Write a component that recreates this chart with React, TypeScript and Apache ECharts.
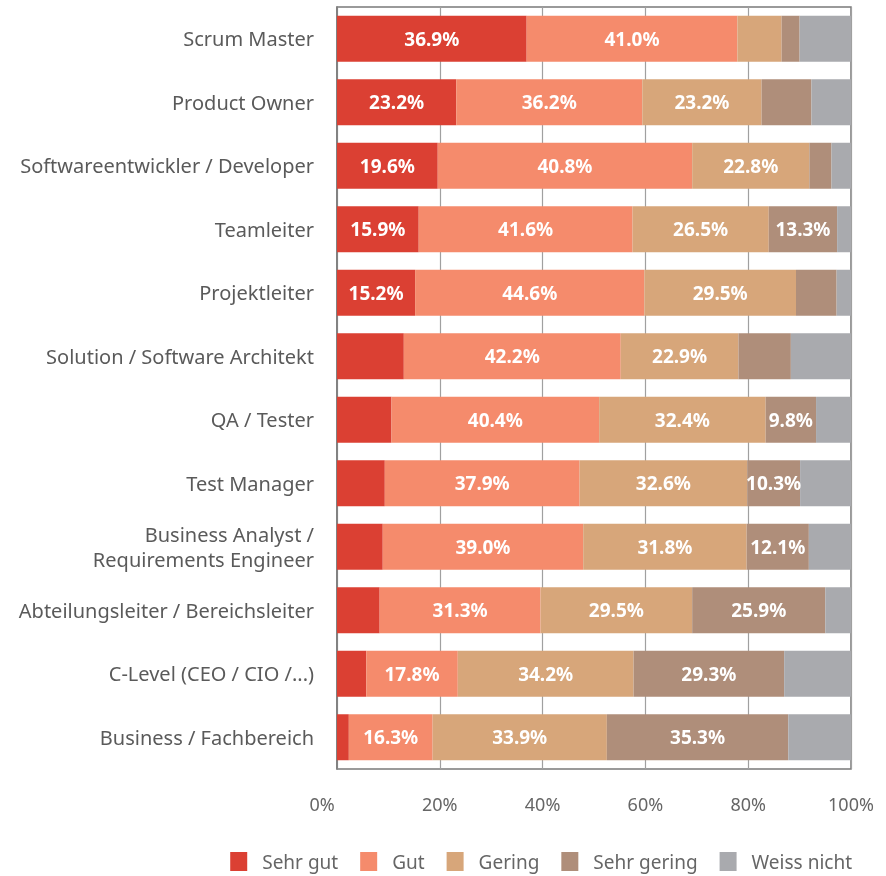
import React, { useEffect, useRef } from "react";
import * as echarts from "echarts";

const categories = [
  "Scrum Master",
  "Product Owner",
  "Softwareentwickler / Developer",
  "Teamleiter",
  "Projektleiter",
  "Solution / Software Architekt",
  "QA / Tester",
  "Test Manager",
  "Business Analyst /\nRequirements Engineer",
  "Abteilungsleiter / Bereichsleiter",
  "C-Level (CEO / CIO /...)",
  "Business / Fachbereich",
];

const seriesNames = ["Sehr gut", "Gut", "Gering", "Sehr gering", "Weiss nicht"];

const sehrGut = [36.9, 23.2, 19.6, 15.9, 15.2, 13.0, 10.6, 9.3, 8.9, 8.3, 5.7, 2.3];
const gut = [41.0, 36.2, 49.5, 41.6, 44.6, 42.2, 40.4, 37.9, 39.0, 31.3, 17.8, 16.3];
const gering = [8.6, 23.2, 22.8, 26.5, 29.5, 22.9, 32.4, 32.6, 31.8, 29.5, 34.2, 33.9];
const sehrGering = [3.5, 9.7, 4.3, 13.3, 7.9, 10.2, 9.8, 10.3, 12.1, 25.9, 29.3, 35.3];
const weissNicht = [10.0, 7.7, 3.8, 2.7, 2.8, 11.7, 6.8, 9.9, 8.2, 5.0, 13.0, 12.2];

// category indexes whose value label is shown, per series
const shownLabels: Record<string, number[]> = {
  "Sehr gut": [0, 1, 2, 3, 4],
  "Gut": [0, 1, 2, 3, 4, 5, 6, 7, 8, 9, 10, 11],
  "Gering": [1, 2, 3, 4, 5, 6, 7, 8, 9, 10, 11],
  "Sehr gering": [3, 6, 7, 8, 9, 10, 11],
  "Weiss nicht": [],
};

// label text printed in the source that differs from the drawn segment
const labelOverrides: Record<string, Record<number, string>> = {
  "Gut": { 2: "40.8%" },
};

const colors = ["#DB4033", "#F58B6C", "#D7A67A", "#AF8E7A", "#A9AAAE"];
const xTicks = [0, 20, 40, 60, 80, 100];

const FONT = "'Noto Sans', 'DejaVu Sans', sans-serif";

export default function App() {
  const ref = useRef<HTMLDivElement>(null);
  useEffect(() => {
    if (!ref.current) return;
    const chart = echarts.init(ref.current, null, { renderer: "svg" });
    const allData = [sehrGut, gut, gering, sehrGering, weissNicht];
    const series = seriesNames.map((name, si) => ({
      name,
      type: "bar",
      stack: "total",
      barWidth: 46,
      itemStyle: { color: colors[si] },
      emphasis: { disabled: true },
      data: allData[si].map((v, ci) => ({
        value: v,
        label: {
          show: shownLabels[name].includes(ci),
          position: "inside",
          color: "#ffffff",
          fontWeight: "bold",
          fontSize: 19,
          fontFamily: FONT,
          formatter: () =>
            (labelOverrides[name] && labelOverrides[name][ci]) || `${v.toFixed(1)}%`,
        },
      })),
    }));
    chart.setOption({
      animation: false,
      textStyle: { fontFamily: FONT },
      grid: {
        left: 337,
        right: 35,
        top: 7,
        bottom: 107,
        show: true,
        borderColor: "#7a7a7a",
        borderWidth: 1.5,
      },
      legend: {
        data: seriesNames,
        right: 34,
        top: 852,
        padding: 0,
        icon: "rect",
        itemWidth: 17,
        itemHeight: 19,
        itemGap: 22,
        formatter: (n: string) => `{t|${n}}`,
        textStyle: {
          fontSize: 19,
          color: "#666666",
          fontFamily: FONT,
          rich: {
            t: {
              fontSize: 19,
              color: "#666666",
              fontFamily: FONT,
              lineHeight: 19,
              padding: [0, 0, 0, 10],
            },
          },
        },
      },
      xAxis: {
        type: "value",
        min: xTicks[0],
        max: xTicks[xTicks.length - 1],
        interval: 20,
        axisLine: { show: false },
        axisTick: { show: false },
        splitLine: { show: true, lineStyle: { color: "#a0a0a0", width: 1.2 } },
        axisLabel: {
          margin: 26,
          fontSize: 18,
          color: "#666666",
          fontFamily: FONT,
          formatter: (v: number) => (v === 0 ? "{z|0%}" : `${v}%`),
          rich: {
            z: { fontSize: 18, color: "#666666", fontFamily: FONT, padding: [0, 30, 0, 0] },
          },
        },
      },
      yAxis: {
        type: "category",
        data: categories,
        inverse: true,
        axisLine: { show: true, lineStyle: { color: "#7a7a7a", width: 1.5 } },
        axisTick: { show: false },
        axisLabel: {
          margin: 23,
          fontSize: 20,
          lineHeight: 25,
          color: "#5a5a5a",
          fontFamily: FONT,
        },
      },
      series,
    });
    return () => chart.dispose();
  }, []);
  return (
    <div
      ref={ref}
      style={{ position: "fixed", left: 0, top: 0, width: 886, height: 876 }}
    />
  );
}
